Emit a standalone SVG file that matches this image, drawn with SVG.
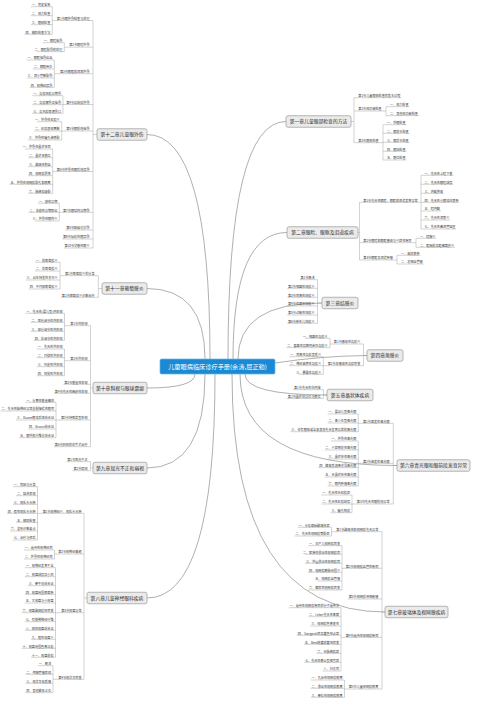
<svg xmlns="http://www.w3.org/2000/svg" width="500" height="707" viewBox="0 0 500 707">
<style>
.ln{fill:none;stroke:#9c9c9c;stroke-width:0.45}
.cv{fill:none;stroke:#6e6e6e;stroke-width:0.55}
.t{font-family:"Noto Sans CJK SC","Noto Sans",sans-serif;font-size:3.1px;fill:#3c3c3c}
.e{text-anchor:end}
.c{font-family:"Noto Sans CJK SC","Noto Sans",sans-serif;font-size:4.8px;fill:#2b2b2b;text-anchor:middle}
.nb{fill:#ebebeb;stroke:#8a8a8a;stroke-width:0.6}
.rt{font-family:"Noto Sans CJK SC","Noto Sans",sans-serif;font-size:6.2px;fill:#ffffff;text-anchor:middle}
</style>
<rect width="500" height="707" fill="#ffffff"/>
<g id="connectors">
<g class="cv">
<path d="M210,359 Q210,134.5 147,134.5"/>
<path d="M205,359 Q205,288.5 147,288.5"/>
<path d="M195,374 Q195,388 147,388"/>
<path d="M205,374 Q205,468 147,468"/>
<path d="M215,374 Q215,598 147,598"/>
<path d="M228,359 Q228,121.5 286,121.5"/>
<path d="M233,359 Q233,232.5 287,232.5"/>
<path d="M238,359 Q238,303 322,303"/>
<path d="M275,363 Q320,356 367,355.5"/>
<path d="M245,374 Q245,395 327,395"/>
<path d="M240,374 Q240,465.5 397,465.5"/>
<path d="M232,374 Q232,612 385,612"/>
</g>
<g class="ln">
<path d="M97,134.5 H93 M93,20.5 V248 M93,20.5 H56 M93,47.2 H68.4 M93,73.7 H59.1 M93,104.5 H65.3 M93,131 H65.3 M93,171.5 H56 M93,212.3 H62.2 M93,230 H65.3 M93,239 H62.2 M93,248 H63.6"/>
<path d="M56,20.5 H52.3 M52.3,6.7 V34.3 M52.3,6.7 H30.9 M52.3,15.7 H30.9 M52.3,24.7 H30.9 M52.3,34.3 H24.7"/>
<path d="M68.4,47.2 H64.3 M64.3,42.7 V51.7 M64.3,42.7 H42.9 M64.3,51.7 H36.7"/>
<path d="M59.1,73.7 H54.3 M54.3,60 V87.3 M54.3,60 H26.7 M54.3,69 H32.9 M54.3,78 H26.7 M54.3,87.3 H29.8"/>
<path d="M65.3,104.5 H63 M63,95.7 V113.3 M63,95.7 H32.3 M63,104.7 H32.3 M63,113.3 H32.3"/>
<path d="M65.3,131 H61.7 M61.7,121.7 V140 M61.7,121.7 H37.2 M61.7,131 H34.1 M61.7,140 H27.9"/>
<path d="M56,171.5 H52.7 M52.7,149 V193.3 M52.7,149 H25.1 M52.7,157.7 H28.2 M52.7,166.7 H28.2 M52.7,175.7 H28.2 M52.7,184.3 H9.6 M52.7,193.3 H28.2"/>
<path d="M62.2,212.3 H59.3 M59.3,203.3 V221 M59.3,203.3 H37.9 M59.3,212.3 H28.6 M59.3,221 H34.8"/>
<path d="M102,288.5 H98.3 M98.3,275.7 V297.3 M98.3,275.7 H64.1 M98.3,297.3 H61"/>
<path d="M64.1,275.7 H60 M60,262.3 V289 M60,262.3 H35 M60,271 H35 M60,280 H25.7 M60,289 H28.8"/>
<path d="M93,388 H90.5 M90.5,325.7 V446.7 M90.5,325.7 H69.5 M90.5,360.7 H69.5 M90.5,384.3 H63.3 M90.5,393.3 H54 M90.5,420 H60.2 M90.5,446.7 H54"/>
<path d="M69.5,325.7 H64.5 M64.5,313.3 V340.3 M64.5,313.3 H25.6 M64.5,322.3 H30.7 M64.5,331.3 H30.7 M64.5,340.3 H33.8"/>
<path d="M69.5,360.7 H64.5 M64.5,349 V375.7 M64.5,349 H36.9 M64.5,357.7 H36.9 M64.5,366.7 H36.9 M64.5,375.7 H36.9"/>
<path d="M60.2,420 H56 M56,402.3 V437.7 M56,402.3 H25.3 M56,411 H0.5 M56,420 H16.1 M56,429 H28.4 M56,437.7 H19.1"/>
<path d="M93,468 H90.5 M90.5,461.7 V470.7 M90.5,461.7 H66.4 M90.5,470.7 H72.6"/>
<path d="M87,598 H84 M84,513.3 V679.3 M84,513.3 H41.8 M84,554 H57.3 M84,612.7 H60.4 M84,679.3 H57.3"/>
<path d="M41.8,513.3 H37.5 M37.5,486.7 V540 M37.5,486.7 H13 M37.5,495.7 H16.1 M37.5,504.3 H13 M37.5,513.3 H6.8 M37.5,522.3 H16.1 M37.5,531 H9.9 M37.5,540 H13"/>
<path d="M57.3,554 H54.5 M54.5,550 V559 M54.5,550 H23.8 M54.5,559 H23.8"/>
<path d="M60.4,612.7 H55.5 M55.5,567.7 V657.3 M55.5,567.7 H24.8 M55.5,576.7 H24.8 M55.5,585.7 H27.9 M55.5,594.3 H24.8 M55.5,603 H24.8 M55.5,612.7 H21.7 M55.5,621.7 H24.8 M55.5,630.3 H24.8 M55.5,639.3 H31 M55.5,648.3 H21.7 M55.5,657.3 H31"/>
<path d="M57.3,679.3 H53 M53,665.7 V692.7 M53,665.7 H37.8 M53,674.3 H25.4 M53,683.3 H25.4 M53,692.7 H25.4"/>
<path d="M351,121.5 H354 M354,97.7 V142.7 M354,97.7 H401.1 M354,111 H382.5 M354,142.7 H379.4"/>
<path d="M382.5,111 H386 M386,106.7 V115.7 M386,106.7 H409.4 M386,115.7 H418.7"/>
<path d="M379.4,142.7 H383 M383,124.7 V160 M383,124.7 H406.4 M383,133.3 H409.5 M383,142.3 H409.5 M383,151.3 H406.4 M383,160 H406.4"/>
<path d="M358,232.5 H359.5 M359.5,202.3 V260 M359.5,202.3 H418.5 M359.5,242.7 H412.3 M359.5,260 H393.7"/>
<path d="M418.5,202.3 H421 M421,175.3 V229 M421,175.3 H453.2 M421,184.3 H453.2 M421,193.3 H443.9 M421,202.3 H459.4 M421,211 H440.8 M421,220 H450.1 M421,229 H456.3"/>
<path d="M412.3,242.7 H416 M416,238.3 V247.3 M416,238.3 H436.3 M416,247.3 H454.9"/>
<path d="M393.7,260 H397 M397,255.3 V264 M397,255.3 H420.4 M397,264 H423.5"/>
<path d="M322,303 H317.5 M317.5,279.7 V323.3 M317.5,279.7 H299.6 M317.5,288.3 H287.2 M317.5,297.3 H287.2 M317.5,306 H287.2 M317.5,315 H287.2 M317.5,323.3 H287.2"/>
<path d="M367,355.5 H363.5 M363.5,344 V365.7 M363.5,344 H333 M363.5,365.7 H326.8"/>
<path d="M333,344 H330 M330,338.3 V347.7 M330,338.3 H305 M330,347.7 H286.4"/>
<path d="M326.8,365.7 H323.3 M323.3,356.7 V374.3 M323.3,356.7 H289.2 M323.3,365.7 H289.2 M323.3,374.3 H298.5"/>
<path d="M327,395 H323.5 M323.5,389.7 V398.5 M323.5,389.7 H293.2 M323.5,398.5 H287"/>
<path d="M397,465.5 H393.3 M393.3,423.3 V504 M393.3,423.3 H362.2 M393.3,463.3 H362.2 M393.3,504 H356"/>
<path d="M362.2,423.3 H358.3 M358.3,414 V431.7 M358.3,414 H327.6 M358.3,423 H327.6 M358.3,431.7 H290.4"/>
<path d="M362.2,463.3 H358.3 M358.3,441 V486 M358.3,441 H330.7 M358.3,450 H324.5 M358.3,459 H327.6 M358.3,467.7 H318.3 M358.3,477 H324.5 M358.3,486 H327.6"/>
<path d="M356,504 H352 M352,495 V512.7 M352,495 H321.3 M352,504 H321.3 M352,512.7 H330.6"/>
<path d="M385,612 H382 M382,531.7 V689 M382,531.7 H335.5 M382,568.3 H344.8 M382,599 H347.9 M382,637.3 H344.8 M382,689 H347.9"/>
<path d="M335.5,531.7 H331.5 M331.5,527.3 V536 M331.5,527.3 H297.7 M331.5,536 H294.6"/>
<path d="M344.8,568.3 H342 M342,545.7 V590 M342,545.7 H308.2 M342,554.3 H305.1 M342,563.3 H305.1 M342,572.3 H308.2 M342,581 H317.5 M342,590 H308.2"/>
<path d="M344.8,637.3 H341 M341,607.7 V671 M341,607.7 H288.6 M341,616.7 H308.4 M341,626 H310.3 M341,635.3 H296.8 M341,644.3 H304.1 M341,653.3 H316.5 M341,662.3 H304.1 M341,671 H322.7"/>
<path d="M347.9,689 H344.5 M344.5,680 V697.3 M344.5,680 H310.7 M344.5,688.3 H310.7 M344.5,697.3 H310.7"/>
</g>
</g>

<g id="root"><rect x="160" y="359" width="115" height="15" rx="1.5" fill="#1a8ad4" stroke="#64b4e8" stroke-width="0.7"/><text class="rt" x="217.5" y="368.7">儿童眼病临床诊疗手册(余涛,屈正勤)</text></g>

<g id="ch12"><rect class="nb" x="97" y="128.75" width="50" height="11.5" rx="2"/><text class="c" x="122" y="136.2">第十二章儿童眼外伤</text></g>
<g id="ch12-s1"><text class="t e" x="89.5" y="19.7">第1节眼外伤检查与处理</text></g>
<g id="ch12-s1-1"><text class="t e" x="50.3" y="5.9">一、病史采集</text></g>
<g id="ch12-s1-2"><text class="t e" x="50.3" y="14.9">二、视力检查</text></g>
<g id="ch12-s1-3"><text class="t e" x="50.3" y="23.9">三、眼部检查</text></g>
<g id="ch12-s1-4"><text class="t e" x="50.3" y="33.5">四、辅助检查方法</text></g>
<g id="ch12-s2"><text class="t e" x="89.5" y="46.4">第2节眼睑外伤</text></g>
<g id="ch12-s2-1"><text class="t e" x="62.3" y="41.9">一、眼睑挫伤</text></g>
<g id="ch12-s2-2"><text class="t e" x="62.3" y="50.9">二、眼睑裂伤的处理</text></g>
<g id="ch12-s3"><text class="t e" x="89.5" y="72.9">第3节眼眶和泪器外伤</text></g>
<g id="ch12-s3-1"><text class="t e" x="52.3" y="59.2">一、眼眶挫伤出血</text></g>
<g id="ch12-s3-2"><text class="t e" x="52.3" y="68.2">二、眼眶骨折</text></g>
<g id="ch12-s3-3"><text class="t e" x="52.3" y="77.2">三、泪小管断裂伤</text></g>
<g id="ch12-s3-4"><text class="t e" x="52.3" y="86.5">四、视神经损伤</text></g>
<g id="ch12-s4"><text class="t e" x="89.5" y="103.7">第4节角结膜外伤</text></g>
<g id="ch12-s4-1"><text class="t e" x="61" y="94.9">一、角膜结膜异物伤</text></g>
<g id="ch12-s4-2"><text class="t e" x="61" y="103.9">二、角膜擦伤及挫伤</text></g>
<g id="ch12-s4-3"><text class="t e" x="61" y="112.5">三、角巩膜穿通伤口</text></g>
<g id="ch12-s5"><text class="t e" x="89.5" y="130.2">第5节眼前段挫伤</text></g>
<g id="ch12-s5-1"><text class="t e" x="59.7" y="120.9">一、外伤性虹膜炎</text></g>
<g id="ch12-s5-2"><text class="t e" x="59.7" y="130.2">二、虹膜根部离断</text></g>
<g id="ch12-s5-3"><text class="t e" x="59.7" y="139.2">三、外伤性瞳孔缘撕裂</text></g>
<g id="ch12-s6"><text class="t e" x="89.5" y="170.7">第6节外伤性眼后段损伤</text></g>
<g id="ch12-s6-1"><text class="t e" x="50.7" y="148.2">一、外伤性晶状体病</text></g>
<g id="ch12-s6-2"><text class="t e" x="50.7" y="156.9">二、晶状体脱位</text></g>
<g id="ch12-s6-3"><text class="t e" x="50.7" y="165.9">三、玻璃体积血</text></g>
<g id="ch12-s6-4"><text class="t e" x="50.7" y="174.9">四、视网膜震荡</text></g>
<g id="ch12-s6-5"><text class="t e" x="50.7" y="183.5">五、外伤性视网膜裂孔和脱离</text></g>
<g id="ch12-s6-6"><text class="t e" x="50.7" y="192.5">六、脉络膜破裂</text></g>
<g id="ch12-s7"><text class="t e" x="89.5" y="211.5">第7节眼球内异物伤</text></g>
<g id="ch12-s7-1"><text class="t e" x="57.3" y="202.5">一、磁性异物</text></g>
<g id="ch12-s7-2"><text class="t e" x="57.3" y="211.5">二、非磁性异物取出</text></g>
<g id="ch12-s7-3"><text class="t e" x="57.3" y="220.2">三、外伤性眼内炎</text></g>
<g id="ch12-s8"><text class="t e" x="89.5" y="229.2">第8节酸碱化学伤</text></g>
<g id="ch12-s9"><text class="t e" x="89.5" y="238.2">第9节辐射性眼损伤</text></g>
<g id="ch12-s10"><text class="t e" x="89.5" y="247.2">第10节交感性眼炎</text></g>

<g id="ch11"><rect class="nb" x="102" y="282.75" width="45" height="11.5" rx="2"/><text class="c" x="124.5" y="290.2">第十一章葡萄膜炎</text></g>
<g id="ch11-s1"><text class="t e" x="94.5" y="274.9">第1节葡萄膜炎的分类</text></g>
<g id="ch11-s1-1"><text class="t e" x="57.5" y="261.5">一、前葡萄膜炎</text></g>
<g id="ch11-s1-2"><text class="t e" x="57.5" y="270.2">二、后葡萄膜炎</text></g>
<g id="ch11-s1-3"><text class="t e" x="57.5" y="279.2">三、幼年特发性关节炎</text></g>
<g id="ch11-s1-4"><text class="t e" x="57.5" y="288.2">四、中间部葡萄膜炎</text></g>
<g id="ch11-s2"><text class="t e" x="94.5" y="296.5">第2节葡萄膜炎诊断治疗</text></g>

<g id="ch10"><rect class="nb" x="93" y="382.25" width="54" height="11.5" rx="2"/><text class="c" x="120" y="389.7">第十章斜视与眼球震颤</text></g>
<g id="ch10-s1"><text class="t e" x="87.5" y="324.9">第1节内斜视</text></g>
<g id="ch10-s1-1"><text class="t e" x="62.5" y="312.5">一、先天性(婴儿型)内斜视</text></g>
<g id="ch10-s1-2"><text class="t e" x="62.5" y="321.5">二、屈光调节性内斜视</text></g>
<g id="ch10-s1-3"><text class="t e" x="62.5" y="330.5">三、部分调节性内斜视</text></g>
<g id="ch10-s1-4"><text class="t e" x="62.5" y="339.5">四、非调节性内斜视</text></g>
<g id="ch10-s2"><text class="t e" x="87.5" y="359.9">第2节外斜视</text></g>
<g id="ch10-s2-1"><text class="t e" x="62.5" y="348.2">一、先天性外斜视</text></g>
<g id="ch10-s2-2"><text class="t e" x="62.5" y="356.9">二、间歇性外斜视</text></g>
<g id="ch10-s2-3"><text class="t e" x="62.5" y="365.9">三、恒定性外斜视</text></g>
<g id="ch10-s2-4"><text class="t e" x="62.5" y="374.9">四、知觉性外斜视</text></g>
<g id="ch10-s3"><text class="t e" x="87.5" y="383.5">第3节垂直性斜视</text></g>
<g id="ch10-s4"><text class="t e" x="87.5" y="392.5">第4节先天性麻痹性斜视</text></g>
<g id="ch10-s5"><text class="t e" x="87.5" y="419.2">第5节特殊类型斜视</text></g>
<g id="ch10-s5-1"><text class="t e" x="54" y="401.5">一、分离性垂直偏斜</text></g>
<g id="ch10-s5-2"><text class="t e" x="54" y="410.2">二、先天性脑神经异常支配障碍性眼病</text></g>
<g id="ch10-s5-3"><text class="t e" x="54" y="419.2">三、Duane眼球后退综合征</text></g>
<g id="ch10-s5-4"><text class="t e" x="54" y="428.2">四、Brown综合征</text></g>
<g id="ch10-s5-5"><text class="t e" x="54" y="436.9">五、眼外肌纤维化综合征</text></g>
<g id="ch10-s6"><text class="t e" x="87.5" y="445.9">第6节斜视的非手术治疗</text></g>

<g id="ch9"><rect class="nb" x="93" y="462.25" width="54" height="11.5" rx="2"/><text class="c" x="120" y="469.7">第九章屈光不正和弱视</text></g>
<g id="ch9-s1"><text class="t e" x="87.5" y="460.9">第1节屈光不正</text></g>
<g id="ch9-s2"><text class="t e" x="87.5" y="469.9">第2节弱视</text></g>

<g id="ch8"><rect class="nb" x="87" y="592.25" width="60" height="11.5" rx="2"/><text class="c" x="117" y="599.7">第八章儿童神经眼科疾病</text></g>
<g id="ch8-s1"><text class="t e" x="81.5" y="512.5">第1节视神经炎、视乳头水肿</text></g>
<g id="ch8-s1-1"><text class="t e" x="35.5" y="485.9">一、病因与分类</text></g>
<g id="ch8-s1-2"><text class="t e" x="35.5" y="494.9">二、临床表现</text></g>
<g id="ch8-s1-3"><text class="t e" x="35.5" y="503.5">三、视乳头水肿</text></g>
<g id="ch8-s1-4"><text class="t e" x="35.5" y="512.5">四、假性视乳头水肿</text></g>
<g id="ch8-s1-5"><text class="t e" x="35.5" y="521.5">五、辅助检查</text></g>
<g id="ch8-s1-6"><text class="t e" x="35.5" y="530.2">六、鉴别诊断要点</text></g>
<g id="ch8-s1-7"><text class="t e" x="35.5" y="539.2">七、治疗与预后</text></g>
<g id="ch8-s2"><text class="t e" x="81.5" y="553.2">第2节视神经萎缩</text></g>
<g id="ch8-s2-1"><text class="t e" x="52.5" y="549.2">一、遗传性视神经病</text></g>
<g id="ch8-s2-2"><text class="t e" x="52.5" y="558.2">二、外伤性视神经病</text></g>
<g id="ch8-s3"><text class="t e" x="81.5" y="611.9">第3节视盘异常</text></g>
<g id="ch8-s3-1"><text class="t e" x="53.5" y="566.9">一、视神经发育不全</text></g>
<g id="ch8-s3-2"><text class="t e" x="53.5" y="575.9">二、视盘缺损及小凹</text></g>
<g id="ch8-s3-3"><text class="t e" x="53.5" y="584.9">三、牵牛花综合征</text></g>
<g id="ch8-s3-4"><text class="t e" x="53.5" y="593.5">四、视盘周围葡萄肿</text></g>
<g id="ch8-s3-5"><text class="t e" x="53.5" y="602.2">五、大视盘与小视盘</text></g>
<g id="ch8-s3-6"><text class="t e" x="53.5" y="611.9">六、视盘玻璃膜疣病变</text></g>
<g id="ch8-s3-7"><text class="t e" x="53.5" y="620.9">七、有髓鞘神经纤维</text></g>
<g id="ch8-s3-8"><text class="t e" x="53.5" y="629.5">八、倾斜视盘综合征</text></g>
<g id="ch8-s3-9"><text class="t e" x="53.5" y="638.5">九、假性视盘炎</text></g>
<g id="ch8-s3-10"><text class="t e" x="53.5" y="647.5">十、视盘周围色素沉着</text></g>
<g id="ch8-s3-11"><text class="t e" x="53.5" y="656.5">十一、视盘前膜</text></g>
<g id="ch8-s4"><text class="t e" x="81.5" y="678.5">第4节视交叉病变</text></g>
<g id="ch8-s4-1"><text class="t e" x="51" y="664.9">一、概述</text></g>
<g id="ch8-s4-2"><text class="t e" x="51" y="673.5">二、颅咽管瘤表现</text></g>
<g id="ch8-s4-3"><text class="t e" x="51" y="682.5">三、视交叉胶质瘤</text></g>
<g id="ch8-s4-4"><text class="t e" x="51" y="691.9">四、其他鞍区占位</text></g>

<g id="ch1"><rect class="nb" x="286" y="115.75" width="65" height="11.5" rx="2"/><text class="c" x="318.5" y="123.2">第一章儿童眼部检查的方法</text></g>
<g id="ch1-s1"><text class="t" x="358.3" y="96.9">第1节儿童眼部检查的基本过程</text></g>
<g id="ch1-s2"><text class="t" x="358.3" y="110.2">第2节视功能检查</text></g>
<g id="ch1-s2-1"><text class="t" x="390" y="105.9">一、视力检查</text></g>
<g id="ch1-s2-2"><text class="t" x="390" y="114.9">二、其他视功能检查</text></g>
<g id="ch1-s3"><text class="t" x="358.3" y="141.9">第3节眼部检查</text></g>
<g id="ch1-s3-1"><text class="t" x="387" y="123.9">一、外眼检查</text></g>
<g id="ch1-s3-2"><text class="t" x="387" y="132.5">二、眼前节检查</text></g>
<g id="ch1-s3-3"><text class="t" x="387" y="141.5">三、眼后节检查</text></g>
<g id="ch1-s3-4"><text class="t" x="387" y="150.5">四、眼压检查</text></g>
<g id="ch1-s3-5"><text class="t" x="387" y="159.2">五、眼位检查</text></g>

<g id="ch2"><rect class="nb" x="287" y="226.75" width="71" height="11.5" rx="2"/><text class="c" x="322.5" y="234.2">第二章眼睑、眼眶及泪道疾病</text></g>
<g id="ch2-s1"><text class="t" x="363.3" y="201.5">第1节先天性眼睑、眼眶和泪道发育异常</text></g>
<g id="ch2-s1-1"><text class="t" x="424.5" y="174.5">一、先天性上睑下垂</text></g>
<g id="ch2-s1-2"><text class="t" x="424.5" y="183.5">二、先天性眼睑缺损</text></g>
<g id="ch2-s1-3"><text class="t" x="424.5" y="192.5">三、内眦赘皮</text></g>
<g id="ch2-s1-4"><text class="t" x="424.5" y="201.5">四、先天性小眼球伴囊肿</text></g>
<g id="ch2-s1-5"><text class="t" x="424.5" y="210.2">五、睑内翻</text></g>
<g id="ch2-s1-6"><text class="t" x="424.5" y="219.2">六、先天性泪囊炎</text></g>
<g id="ch2-s1-7"><text class="t" x="424.5" y="228.2">七、先天性鼻泪管阻塞</text></g>
<g id="ch2-s2"><text class="t" x="363.3" y="241.9">第2节眼睑和眼眶感染与炎症性疾病</text></g>
<g id="ch2-s2-1"><text class="t" x="420" y="237.5">一、睑腺炎</text></g>
<g id="ch2-s2-2"><text class="t" x="420" y="246.5">二、眶隔前及眶蜂窝织炎</text></g>
<g id="ch2-s3"><text class="t" x="363.3" y="259.2">第3节眼眶及泪道肿瘤</text></g>
<g id="ch2-s3-1"><text class="t" x="401" y="254.5">一、皮样囊肿</text></g>
<g id="ch2-s3-2"><text class="t" x="401" y="263.2">二、毛细血管瘤</text></g>

<g id="ch3"><rect class="nb" x="322" y="297.25" width="36" height="11.5" rx="2"/><text class="c" x="340" y="304.7">第三章结膜炎</text></g>
<g id="ch3-s1"><text class="t e" x="314.5" y="278.9">第1节概述</text></g>
<g id="ch3-s2"><text class="t e" x="314.5" y="287.5">第2节细菌性结膜炎</text></g>
<g id="ch3-s3"><text class="t e" x="314.5" y="296.5">第3节病毒性结膜炎</text></g>
<g id="ch3-s4"><text class="t e" x="314.5" y="305.2">第4节衣原体结膜炎</text></g>
<g id="ch3-s5"><text class="t e" x="314.5" y="314.2">第5节过敏性结膜炎</text></g>
<g id="ch3-s6"><text class="t e" x="314.5" y="322.5">第6节新生儿结膜炎</text></g>

<g id="ch4"><rect class="nb" x="367" y="349.75" width="36" height="11.5" rx="2"/><text class="c" x="385" y="357.2">第四章角膜炎</text></g>
<g id="ch4-s1"><text class="t e" x="360.3" y="343.2">第1节感染性角膜炎</text></g>
<g id="ch4-s1-1"><text class="t e" x="327.5" y="337.5">一、细菌性角膜炎</text></g>
<g id="ch4-s1-2"><text class="t e" x="327.5" y="346.9">二、真菌性及棘阿米巴角膜炎</text></g>
<g id="ch4-s2"><text class="t e" x="360.3" y="364.9">第2节非感染性角膜病变</text></g>
<g id="ch4-s2-1"><text class="t e" x="321" y="355.9">一、病毒性角膜基质炎</text></g>
<g id="ch4-s2-2"><text class="t e" x="321" y="364.9">二、神经营养性角膜炎</text></g>
<g id="ch4-s2-3"><text class="t e" x="321" y="373.5">三、暴露性角膜炎</text></g>

<g id="ch5"><rect class="nb" x="327" y="389.25" width="46" height="11.5" rx="2"/><text class="c" x="350" y="396.7">第五章晶状体疾病</text></g>
<g id="ch5-s1"><text class="t e" x="320.5" y="388.9">第1节先天性白内障</text></g>
<g id="ch5-s2"><text class="t e" x="320.5" y="397.7">第2节晶状体异位与脱位</text></g>

<g id="ch6"><rect class="nb" x="397" y="459.75" width="73" height="11.5" rx="2"/><text class="c" x="433.5" y="467.2">第六章青光眼和眼前段发育异常</text></g>
<g id="ch6-s1"><text class="t e" x="389.5" y="422.5">第1节原发性青光眼</text></g>
<g id="ch6-s1-1"><text class="t e" x="356.3" y="413.2">一、婴幼儿型青光眼</text></g>
<g id="ch6-s1-2"><text class="t e" x="356.3" y="422.2">二、青少年型青光眼</text></g>
<g id="ch6-s1-3"><text class="t e" x="356.3" y="430.9">三、伴有眼部或全身其他先天发育异常的青光眼</text></g>
<g id="ch6-s2"><text class="t e" x="389.5" y="462.5">第2节继发性青光眼</text></g>
<g id="ch6-s2-1"><text class="t e" x="356.3" y="440.2">一、外伤性青光眼</text></g>
<g id="ch6-s2-2"><text class="t e" x="356.3" y="449.2">二、炎症相关性青光眼</text></g>
<g id="ch6-s2-3"><text class="t e" x="356.3" y="458.2">三、晶状体性青光眼</text></g>
<g id="ch6-s2-4"><text class="t e" x="356.3" y="466.9">四、糖皮质激素诱导青光眼</text></g>
<g id="ch6-s2-5"><text class="t e" x="356.3" y="476.2">五、无晶状体性青光眼</text></g>
<g id="ch6-s2-6"><text class="t e" x="356.3" y="485.2">六、眼内肿瘤青光眼</text></g>
<g id="ch6-s3"><text class="t e" x="389.5" y="503.2">第3节先天性眼前段异常</text></g>
<g id="ch6-s3-1"><text class="t e" x="350" y="494.2">一、先天性无虹膜症</text></g>
<g id="ch6-s3-2"><text class="t e" x="350" y="503.2">二、先天性虹膜缺损</text></g>
<g id="ch6-s3-3"><text class="t e" x="350" y="511.9">三、瞳孔残膜</text></g>

<g id="ch7"><rect class="nb" x="385" y="606.25" width="63" height="11.5" rx="2"/><text class="c" x="416.5" y="613.7">第七章玻璃体及视网膜疾病</text></g>
<g id="ch7-s1"><text class="t e" x="378.3" y="530.9">第1节玻璃体和视网膜先天异常</text></g>
<g id="ch7-s1-1"><text class="t e" x="329.5" y="526.5">一、永存原始玻璃体症</text></g>
<g id="ch7-s1-2"><text class="t e" x="329.5" y="535.2">二、先天性视网膜劈裂症</text></g>
<g id="ch7-s2"><text class="t e" x="378.3" y="567.5">第2节视网膜血管性疾病</text></g>
<g id="ch7-s2-1"><text class="t e" x="340" y="544.9">一、早产儿视网膜病变</text></g>
<g id="ch7-s2-2"><text class="t e" x="340" y="553.5">二、家族性渗出性视网膜病</text></g>
<g id="ch7-s2-3"><text class="t e" x="340" y="562.5">三、外层渗出性视网膜病</text></g>
<g id="ch7-s2-4"><text class="t e" x="340" y="571.5">四、视网膜静脉周围炎</text></g>
<g id="ch7-s2-5"><text class="t e" x="340" y="580.2">五、视网膜血管瘤</text></g>
<g id="ch7-s2-6"><text class="t e" x="340" y="589.2">六、糖尿病视网膜病变</text></g>
<g id="ch7-s3"><text class="t e" x="378.3" y="598.2">第3节视网膜母细胞瘤</text></g>
<g id="ch7-s4"><text class="t e" x="378.3" y="636.5">第4节遗传性视网膜疾病</text></g>
<g id="ch7-s4-1"><text class="t e" x="339" y="606.9">一、遗传性视网膜疾病的分子遗传学</text></g>
<g id="ch7-s4-2"><text class="t e" x="339" y="615.9">二、Leber先天性黑矇</text></g>
<g id="ch7-s4-3"><text class="t e" x="339" y="625.2">三、视网膜色素变性</text></g>
<g id="ch7-s4-4"><text class="t e" x="339" y="634.5">四、Stargardt病及黄色斑点症</text></g>
<g id="ch7-s4-5"><text class="t e" x="339" y="643.5">五、Best卵黄样黄斑病变</text></g>
<g id="ch7-s4-6"><text class="t e" x="339" y="652.5">六、无脉络膜症</text></g>
<g id="ch7-s4-7"><text class="t e" x="339" y="661.5">七、先天性静止型夜盲症</text></g>
<g id="ch7-s4-8"><text class="t e" x="339" y="670.2">八、白化病</text></g>
<g id="ch7-s5"><text class="t e" x="378.3" y="688.2">第5节儿童视网膜脱离</text></g>
<g id="ch7-s5-1"><text class="t e" x="342.5" y="679.2">一、孔源性视网膜脱离</text></g>
<g id="ch7-s5-2"><text class="t e" x="342.5" y="687.5">二、渗出性视网膜脱离</text></g>
<g id="ch7-s5-3"><text class="t e" x="342.5" y="696.5">三、牵拉性视网膜脱离</text></g>
</svg>
